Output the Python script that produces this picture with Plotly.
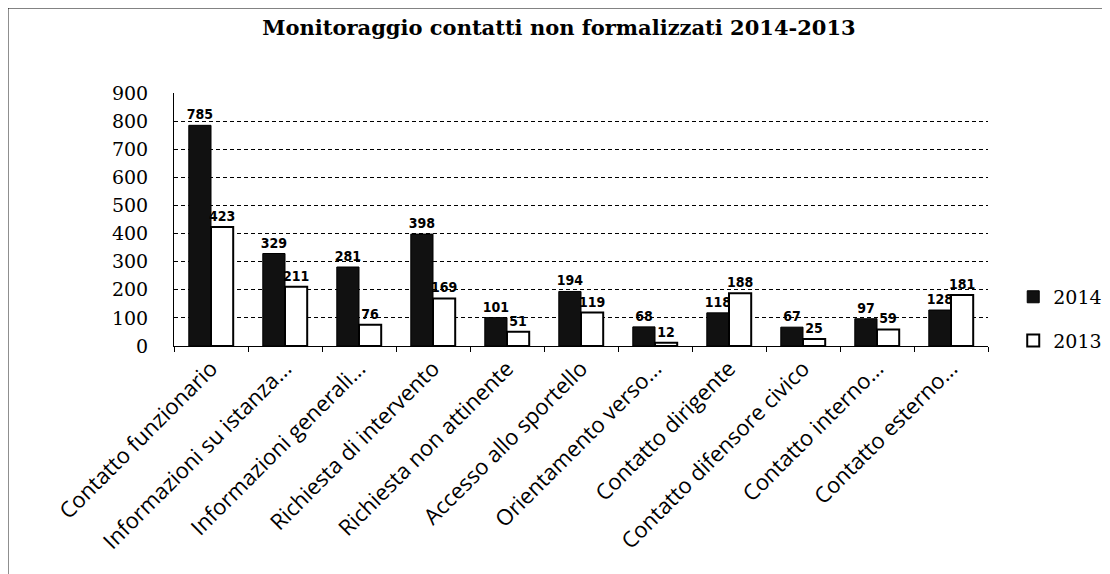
import plotly.graph_objects as go

categories = [
    "Contatto funzionario",
    "Informazioni su istanza...",
    "Informazioni generali...",
    "Richiesta di intervento",
    "Richiesta non attinente",
    "Accesso allo sportello",
    "Orientamento verso...",
    "Contatto dirigente",
    "Contatto difensore civico",
    "Contatto interno...",
    "Contatto esterno...",
]
values_2014 = [785, 329, 281, 398, 101, 194, 68, 118, 67, 97, 128]
values_2013 = [423, 211, 76, 169, 51, 119, 12, 188, 25, 59, 181]
y_ticks = [0, 100, 200, 300, 400, 500, 600, 700, 800, 900]

label_font = dict(family="DejaVu Sans Condensed, Liberation Sans", size=14,
                  color="black", weight="bold")

fig = go.Figure()
fig.add_trace(
    go.Bar(
        x=categories,
        y=values_2014,
        name="2014",
        legendgroup="a",
        marker_color="#111111",
        marker_line=dict(color="black", width=1),
        text=values_2014,
        textposition="outside",
        textfont=label_font,
        constraintext="none",
        cliponaxis=False,
    )
)
fig.add_trace(
    go.Bar(
        x=categories,
        y=values_2013,
        name="2013",
        legendgroup="b",
        marker_color="white",
        marker_line=dict(color="black", width=2),
        text=values_2013,
        textposition="outside",
        textfont=label_font,
        constraintext="none",
        cliponaxis=False,
    )
)

# the page body adds an 8px offset, so the figure is 8px smaller than the window
fig.update_layout(
    width=1102,
    height=566,
    margin=dict(l=166, r=122, t=85, b=228, autoexpand=False),
    paper_bgcolor="white",
    plot_bgcolor="white",
    barmode="group",
    bargap=0.4,
    bargroupgap=0,
    title=dict(
        text="<b>Monitoraggio contatti non formalizzati 2014-2013</b>",
        x=0.5,
        xref="container",
        y=0.966,
        yanchor="middle",
        font=dict(family="DejaVu Serif", size=21, color="black"),
    ),
    legend=dict(
        x=1.031,
        y=0.107,
        xanchor="left",
        yanchor="middle",
        font=dict(family="DejaVu Serif", size=19, color="black"),
        tracegroupgap=16,
        traceorder="grouped",
        itemwidth=30,
    ),
    shapes=[
        dict(
            type="rect",
            xref="paper",
            yref="paper",
            x0=-0.204,
            x1=1.1437,
            y0=-0.93,
            y1=1.336,
            line=dict(color="black", width=1),
            fillcolor="rgba(0,0,0,0)",
            layer="below",
        )
    ],
)

fig.update_xaxes(
    type="category",
    tickangle=-45,
    tickfont=dict(family="Open Sans", size=22, color="black"),
    ticks="outside",
    tickson="boundaries",
    ticklen=5,
    tickcolor="black",
    showline=True,
    linecolor="black",
    linewidth=1,
    showgrid=False,
)
fig.update_yaxes(
    range=[0, 900],
    tickvals=y_ticks,
    tickfont=dict(family="DejaVu Serif", size=19, color="black"),
    showgrid=True,
    gridcolor="black",
    gridwidth=1,
    griddash="4px,3px",
    showline=True,
    linecolor="black",
    linewidth=1,
    zeroline=False,
    ticklabelstandoff=21,
)

fig.write_html("out.html")
